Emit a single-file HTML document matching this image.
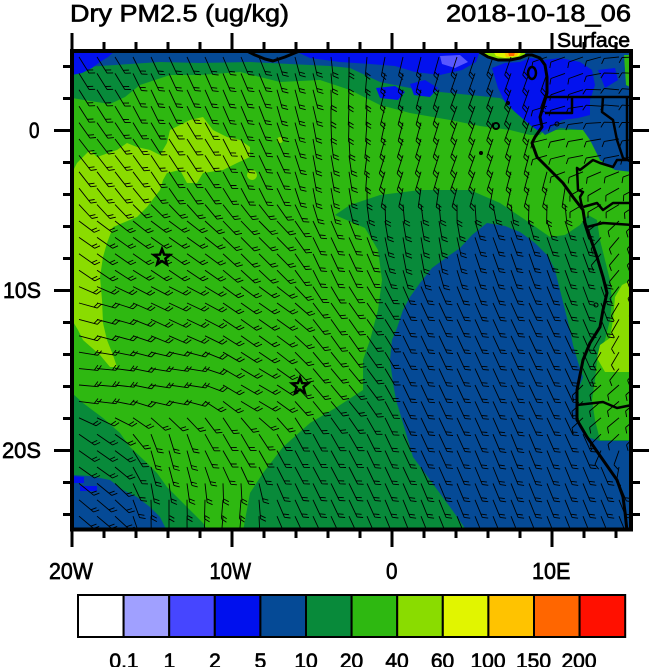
<!DOCTYPE html>
<html><head><meta charset="utf-8"><style>
html,body{margin:0;padding:0;background:#fff;}
svg{display:block;}
text{font-family:"Liberation Sans",Arial,sans-serif;fill:#000;stroke:#000;stroke-width:0.65px;}
</style></head><body>
<svg width="650" height="667" viewBox="0 0 650 667" xmlns="http://www.w3.org/2000/svg">
<defs><clipPath id="mc"><rect x="72" y="51" width="559" height="478.5"/></clipPath></defs>
<g clip-path="url(#mc)">
<rect x="72" y="51" width="560" height="480" fill="#2EB811"/>
<path fill="#088A3A" d="M72,51 L632,51 L632,130 L545,130 L540,135 L530,135 L510,130 L480,126 L450,120 L410,113 L380,105 L350,90 L320,80 L280,82 L240,72 L200,75 L170,75 L140,85 L125,97 L110,104 L90,101 L72,98 Z"/>
<path fill="#054A96" d="M72,51 L632,51 L632,172 L615,170 L600,160 L590,140 L583,130 L560,128 L545,135 L535,125 L520,110 L500,98 L460,94 L420,90 L380,82 L350,68 L330,66 L290,64 L250,62 L200,63 L160,62 L130,64 L100,66 L72,68 Z"/>
<path fill="#0312EE" d="M72,51 L115,51 L108,57 L100,62 L92,68 L82,73 L72,75 Z"/>
<path fill="#0312EE" d="M295,51 L480,51 L476,62 L462,70 L440,75 L415,72 L395,66 L370,64 L340,62 L310,58 Z"/>
<path fill="#0312EE" d="M492,68 L505,63 L520,62 L530,58 L545,60 L560,58 L580,62 L592,70 L595,85 L590,100 L590,115 L578,118 L562,120 L550,128 L540,132 L530,125 L515,112 L505,102 L498,88 Z"/>
<path fill="#0312EE" d="M598,70 L615,68 L618,80 L605,88 Z"/>
<path fill="#0312EE" d="M376,88 L395,86 L405,92 L398,100 L380,98 Z"/>
<path fill="#0312EE" d="M410,84 L425,80 L438,88 L430,97 L414,95 Z"/>
<path fill="#5858FF" d="M440,56 L460,55 L468,62 L455,68 L442,64 Z"/>
<path fill="#2EB811" d="M624,55 L632,55 L632,88 L626,85 Z"/>
<path fill="#8ADC00" d="M478,51 L526,51 L524,57 L512,61 L497,61 L486,57 Z"/>
<path fill="#E1F500" d="M493,51 L522,51 L519,56 L505,58 L496,56 Z"/>
<path fill="#FFC300" d="M504,51 L519,51 L517,56 L506,57 Z"/>
<path fill="#FF6600" d="M508,52 L515,52 L514,56 L509,56 Z"/>
<path fill="#8ADC00" d="M72,173 L77,163 L90,150 L97,157 L117,150 L127,143 L137,147 L150,150 L160,155 L167,143 L170,130 L190,120 L203,117 L213,130 L227,137 L240,140 L250,147 L250,157 L237,163 L223,170 L203,173 L197,183 L187,183 L180,170 L167,173 L163,180 L160,190 L147,207 L137,217 L113,227 L107,243 L103,257 L100,277 L102,300 L103,323 L107,340 L113,355 L117,367 L110,367 L100,355 L83,340 L78,330 L72,320 Z"/>
<circle cx="252" cy="175" r="5" fill="#8ADC00"/>
<circle cx="280" cy="140" r="3" fill="#8ADC00"/>
<path fill="#088A3A" d="M335,215 L350,205 L380,195 L420,190 L470,190 L500,203 L530,223 L550,237 L565,235 L580,225 L588,215 L597,220 L600,240 L605,260 L610,280 L612,300 L610,320 L605,340 L597,360 L595,380 L592,400 L595,420 L600,440 L632,440 L632,531 L243,531 L250,493 L263,473 L283,447 L310,423 L337,407 L363,390 L363,360 L370,340 L378,310 L382,280 L378,250 L365,228 Z"/>
<path fill="#8ADC00" d="M632,280 L622,285 L615,297 L613,320 L610,338 L600,345 L597,358 L605,372 L632,372 Z"/>
<path fill="#2EB811" d="M632,372 L605,372 L600,385 L601,400 L598,410 L603,425 L610,440 L632,440 Z"/>
<path fill="#054A96" d="M487,223 L505,226 L520,232 L535,243 L548,256 L555,270 L560,290 L565,310 L570,330 L573,345 L578,362 L583,377 L578,390 L577,420 L587,437 L600,441 L632,441 L632,531 L467,531 L450,507 L430,480 L413,457 L403,423 L396,400 L393,383 L390,360 L392,340 L397,328 L403,310 L410,297 L420,283 L432,268 L447,257 L460,248 L472,235 Z"/>
<path fill="#088A3A" d="M72,393 L83,403 L103,418 L120,433 L130,447 L147,463 L157,473 L167,487 L180,500 L193,513 L203,523 L208,531 L72,531 Z"/>
<path fill="#054A96" d="M72,475 L90,476 L110,480 L123,490 L137,497 L150,507 L160,517 L167,531 L72,531 Z"/>
<path fill="#0312EE" d="M72,476 L84,477 L84,483 L72,483 Z M80,486 L97,486 L97,491 L80,491 Z"/>
<path id="barbs" d="" fill="none" stroke="#000" stroke-width="0.9"/>
<path fill="none" stroke="#000" stroke-width="3" stroke-linejoin="round" d="M478,51 L488,57 L498,60 L510,60 L520,58 L527,55 L532,55 L540,58 L545,65 L547,77 L547,93 L543,107 L540,117 L542,127 L535,137 L532,143 L537,157 L550,170 L563,183 L573,197 L583,210 L585,223 L590,237 L597,257 L603,277 L607,293 L603,310 L600,327 L590,343 L583,360 L577,390 L577,420 L587,437 L603,460 L617,480 L623,497 L625,512 L627,531 M247,51 L255,55 L265,59 L273,61 L285,57 L297,52 L300,51"/>
<path fill="none" stroke="#000" stroke-width="2.5" stroke-linejoin="round" d="M547,97 L572,97 L572,113 L545,113 M572,97 L603,97 L632,97 M603,97 L602,112 L613,120 L617,140 L623,158 L632,162 M627,97 L627,160 M632,160 L617,160 L613,167 L600,163 L593,160 L580,170 L577,168 L578,190 L583,192 L580,197 L582,207 M583,207 L597,203 L603,210 L613,203 L632,203 M587,227 L603,223 L632,225 M577,405 L603,402 L617,408 L632,405"/>
<ellipse cx="532" cy="73" rx="4" ry="6" fill="none" stroke="#000" stroke-width="2.5"/>
<circle cx="496" cy="126" r="3" fill="none" stroke="#000" stroke-width="2"/>
<circle cx="508" cy="103" r="2" fill="#000"/>
<circle cx="481" cy="153" r="2" fill="#000"/>
<circle cx="557" cy="124" r="2" fill="none" stroke="#000" stroke-width="1"/>
<circle cx="596" cy="305" r="2" fill="none" stroke="#000" stroke-width="1"/>
<path fill="none" stroke="#000" stroke-width="2.5" stroke-linejoin="miter" d="M162,249 L164.1,254.6 L170,254.9 L165.4,258.6 L166.9,264.3 L162,261.1 L157.1,264.3 L158.6,258.6 L154,254.9 L159.9,254.6 Z"/>
<path fill="none" stroke="#000" stroke-width="2.5" stroke-linejoin="miter" d="M300,377.5 L302.1,383.1 L308,383.4 L303.4,387.1 L304.9,392.8 L300,389.6 L295.1,392.8 L296.6,387.1 L292,383.4 L297.9,383.1 Z"/>
</g>
<rect x="72" y="51" width="559" height="478.5" fill="none" stroke="#000" stroke-width="4"/>
<g stroke="#000" stroke-width="3">
<path d="M54,130.5H72M54,290.5H72M54,450.5H72M631,130.5H649M631,290.5H649M631,450.5H649"/>
<path d="M63,66.5H72M63,98.5H72M63,162.5H72M63,194.5H72M63,226.5H72M63,258.5H72M63,322.5H72M63,354.5H72M63,386.5H72M63,418.5H72M63,482.5H72M63,514.5H72"/>
<path d="M631,66.5H640M631,98.5H640M631,162.5H640M631,194.5H640M631,226.5H640M631,258.5H640M631,322.5H640M631,354.5H640M631,386.5H640M631,418.5H640M631,482.5H640M631,514.5H640"/>
<path d="M72,33V51M232,33V51M392,33V51M552,33V51M72,529V547M232,529V547M392,529V547M552,529V547"/>
<path d="M104,42V51M136,42V51M168,42V51M200,42V51M264,42V51M296,42V51M328,42V51M360,42V51M424,42V51M456,42V51M488,42V51M520,42V51M584,42V51M616,42V51"/>
<path d="M104,529V538M136,529V538M168,529V538M200,529V538M264,529V538M296,529V538M328,529V538M360,529V538M424,529V538M456,529V538M488,529V538M520,529V538M584,529V538M616,529V538"/>
</g>
<text x="70" y="21.5" font-size="24" textLength="219" lengthAdjust="spacingAndGlyphs">Dry PM2.5 (ug/kg)</text>
<text x="446" y="21.5" font-size="24" textLength="185" lengthAdjust="spacingAndGlyphs">2018-10-18_06</text>
<text x="557" y="47" font-size="20" textLength="73" lengthAdjust="spacingAndGlyphs">Surface</text>
<text x="29" y="138" font-size="22" textLength="10.5" lengthAdjust="spacingAndGlyphs">0</text>
<text x="3" y="298" font-size="22" textLength="38" lengthAdjust="spacingAndGlyphs">10S</text>
<text x="2" y="458" font-size="22" textLength="39" lengthAdjust="spacingAndGlyphs">20S</text>
<text x="49" y="579" font-size="23" textLength="44" lengthAdjust="spacingAndGlyphs">20W</text>
<text x="209.5" y="579" font-size="23" textLength="41.5" lengthAdjust="spacingAndGlyphs">10W</text>
<text x="386" y="579" font-size="23" textLength="11.5" lengthAdjust="spacingAndGlyphs">0</text>
<text x="532" y="579" font-size="23" textLength="38.5" lengthAdjust="spacingAndGlyphs">10E</text>
<g stroke="#000" stroke-width="2">
<rect x="78" y="595" width="45.6" height="42" fill="#FFFFFF"/>
<rect x="123.6" y="595" width="45.6" height="42" fill="#A0A0FF"/>
<rect x="169.2" y="595" width="45.6" height="42" fill="#4646FF"/>
<rect x="214.8" y="595" width="45.6" height="42" fill="#0010EE"/>
<rect x="260.4" y="595" width="45.6" height="42" fill="#054A96"/>
<rect x="306" y="595" width="45.6" height="42" fill="#088A3A"/>
<rect x="351.6" y="595" width="45.6" height="42" fill="#2EB811"/>
<rect x="397.2" y="595" width="45.6" height="42" fill="#8ADC00"/>
<rect x="442.8" y="595" width="45.6" height="42" fill="#E1F500"/>
<rect x="488.4" y="595" width="45.6" height="42" fill="#FFC300"/>
<rect x="534" y="595" width="45.6" height="42" fill="#FF6600"/>
<rect x="579.6" y="595" width="45.6" height="42" fill="#FF1000"/>
</g>
<g font-size="21" text-anchor="middle">
<text x="124" y="668">0.1</text>
<text x="169.5" y="668">1</text>
<text x="215" y="668">2</text>
<text x="260.5" y="668">5</text>
<text x="306" y="668">10</text>
<text x="351.5" y="668">20</text>
<text x="397" y="668">40</text>
<text x="442.5" y="668">60</text>
<text x="488" y="668">100</text>
<text x="533.5" y="668">150</text>
<text x="579" y="668">200</text>
</g>
</svg>
<script>
(function(){
var cps=[[90,70,58],[160,75,65],[240,80,67],[300,90,75],[350,100,92],[400,95,105],[470,100,110],[520,100,110],
[90,170,52],[180,160,57],[260,160,65],[330,170,80],[400,160,108],[470,160,110],[530,170,105],
[90,250,35],[170,250,35],[260,240,45],[330,250,65],[420,230,80],[500,235,70],[560,250,70],
[90,320,15],[170,310,25],[260,310,35],[350,320,55],[430,320,65],[530,320,65],
[90,380,5],[170,380,8],[250,390,30],[330,380,50],[430,390,65],[550,400,65],
[90,450,35],[170,455,75],[230,440,60],[300,450,62],[400,450,65],[520,460,68],
[90,510,40],[170,510,90],[230,510,95],[300,510,65],[420,510,68],[540,510,68]];
var land=[[575,75,160],[615,100,185],[600,150,170],[600,190,150],[620,250,130],[620,330,120],[620,410,140],[625,480,100]];
var coast=[[540,58],[545,65],[547,77],[547,93],[543,107],[540,117],[542,127],[535,137],[532,143],[537,157],[550,170],[563,183],[573,197],[583,210],[585,223],[590,237],[597,257],[603,277],[607,293],[603,310],[600,327],[590,343],[583,360],[577,390],[577,420],[587,437],[603,460],[617,480],[623,497],[625,512],[627,531]];
function cx(y){if(y<58)return 528;for(var i=1;i<coast.length;i++){if(y<=coast[i][1]){var a=coast[i-1],b=coast[i];return a[0]+(b[0]-a[0])*(y-a[1])/(b[1]-a[1]);}}return 627;}
function ang(x,y,pts){var sx=0,sy=0;for(var i=0;i<pts.length;i++){var p=pts[i];var d2=(x-p[0])*(x-p[0])+(y-p[1])*(y-p[1])+50;var w=1/(d2*d2);var r=p[2]*Math.PI/180;sx+=w*Math.cos(r);sy+=w*Math.sin(r);}return Math.atan2(sy,sx);}
var s="";
for(var r=0;r<30;r++){var y=57+r*16.4;for(var c=0;c<32;c++){var x=79+c*18;
var isL=x>cx(y)+2;
var a=isL?ang(x,y,land):ang(x,y,cps);
var dx=Math.cos(a),dy=Math.sin(a);var L=isL?15:19;var n=isL?1:2;
var tx=x+dx*L,ty=y+dy*L;s+="M"+x.toFixed(1)+","+y.toFixed(1)+"L"+tx.toFixed(1)+","+ty.toFixed(1);
var px=dy,py=-dx;var fx=px*0.87+dx*0.5,fy=py*0.87+dy*0.5;
for(var k=0;k<n;k++){var bx=tx-dx*k*3.5,by=ty-dy*k*3.5;s+="M"+bx.toFixed(1)+","+by.toFixed(1)+"L"+(bx+fx*6).toFixed(1)+","+(by+fy*6).toFixed(1);}
}}
document.getElementById('barbs').setAttribute('d',s);
})();
</script>
</body></html>
